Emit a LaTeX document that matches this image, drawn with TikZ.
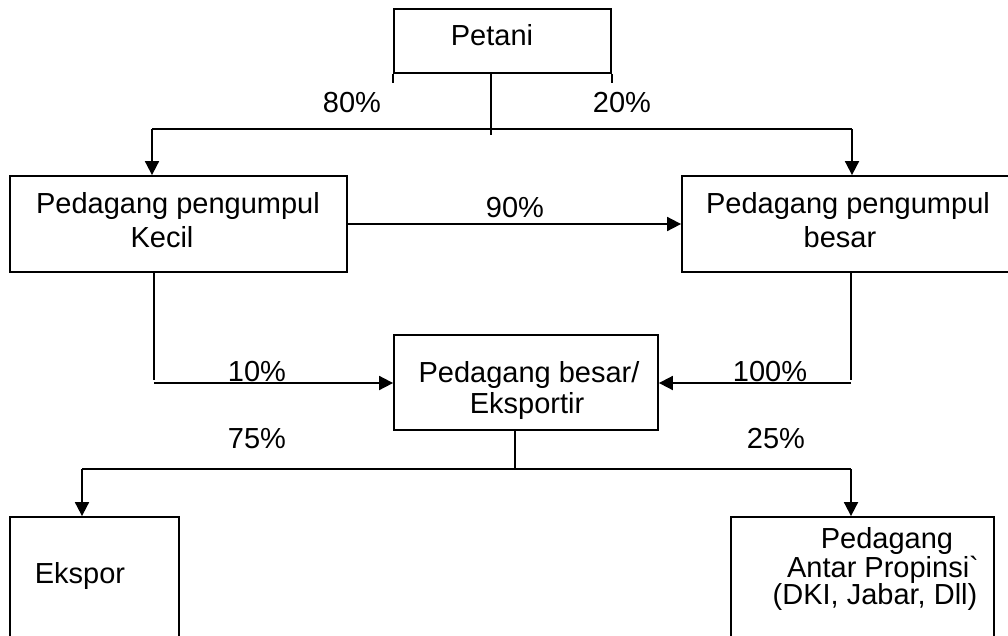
\documentclass[tikz,border=0pt]{standalone}
\usepackage{fontspec}
\setmainfont{Liberation Sans}
\newfontfamily\rawfont{Liberation Sans}
\usetikzlibrary{arrows.meta}
\begin{document}
\begin{tikzpicture}[x=1pt,y=-1pt,
  line width=1.8pt,
  box/.style={draw,line width=1.8pt,inner sep=0pt},
  txt/.style={font=\fontsize{29}{34}\selectfont,inner sep=0pt,anchor=base},
  arr/.style={-{Triangle[length=14pt,width=14pt]}}]
\useasboundingbox (0,0) rectangle (1008,635);
\clip (0,0) rectangle (1008,635);
% boxes
\node[box,minimum width=217pt,minimum height=64pt] (petani) at (502.5,41) {};
\node[box,minimum width=337pt,minimum height=96pt] (ppk) at (178.5,224) {};
\node[box,minimum width=338pt,minimum height=96pt] (ppb) at (851,224) {};
\node[box,minimum width=264pt,minimum height=95pt] (pbe) at (526,382.5) {};
\node[box,minimum width=169pt,minimum height=140pt] (eks) at (94.5,587) {};
\node[box,minimum width=263pt,minimum height=140pt] (pap) at (862.5,587) {};
% texts
\node[txt] (tpet) at (492,45) {Petani};
\node[txt] (tppk1) at (178,213) {Pedagang pengumpul};
\node[txt] (tppk2) at (162,247) {Kecil};
\node[txt] (tppb1) at (848,213) {Pedagang pengumpul};
\node[txt] (tppb2) at (840,247) {besar};
\node[txt] (tpbe1) at (529,382) {Pedagang besar/};
\node[txt] (tpbe2) at (527,413) {Eksportir};
\node[txt] (teks) at (80,583) {Ekspor};
\node[txt] (tpap1) at (887,548) {Pedagang};
\node[txt] (tpap2) at (883,577) {Antar Propinsi{\rawfont\symbol{96}}};
\node[txt] (tpap3) at (875,604) {(DKI, Jabar, Dll)};
% percentages
\node[txt] (p80) at (352,112) {80\%};
\node[txt] (p20) at (622,112) {20\%};
\node[txt] (p90) at (515,217) {90\%};
\node[txt] (p10) at (257,381) {10\%};
\node[txt] (p100) at (770,381) {100\%};
\node[txt] (p75) at (257,448) {75\%};
\node[txt] (p25) at (776,448) {25\%};
% coordinates
\coordinate (tl) at (petani.south west);
\coordinate (tr) at (petani.south east);
\coordinate (s1) at (491,135);
\coordinate (j1) at (491,129);
\coordinate (l1) at (152,129);
\coordinate (r1) at (852,129);
\coordinate (l2) at (154,380);
\coordinate (l3) at (154,383);
\coordinate (r2) at (851,380);
\coordinate (r3) at (851,383);
\coordinate (j2) at (515,469);
\coordinate (l4) at (82,469);
\coordinate (r4) at (851,469);
% petani ticks
\draw (tl) -- ++(0,9);
\draw (tr) -- ++(0,9);
% connectors
\draw (petani.south -| j1) -- (s1);
\draw (l1) -- (r1);
\draw[arr] (l1) -- (ppk.north -| l1);
\draw[arr] (r1) -- (ppb.north -| r1);
\draw[arr] (ppk.east) -- (ppb.west |- ppk.east);
\draw (ppk.south -| l2) -- (l2);
\draw[arr] (l3) -- (pbe.west |- l3);
\draw (ppb.south -| r2) -- (r2);
\draw[arr] (r3) -- (pbe.east |- r3);
\draw (pbe.south -| j2) -- (j2);
\draw (l4) -- (r4);
\draw[arr] (l4) -- (eks.north -| l4);
\draw[arr] (r4) -- (pap.north -| r4);
\end{tikzpicture}
\end{document}
